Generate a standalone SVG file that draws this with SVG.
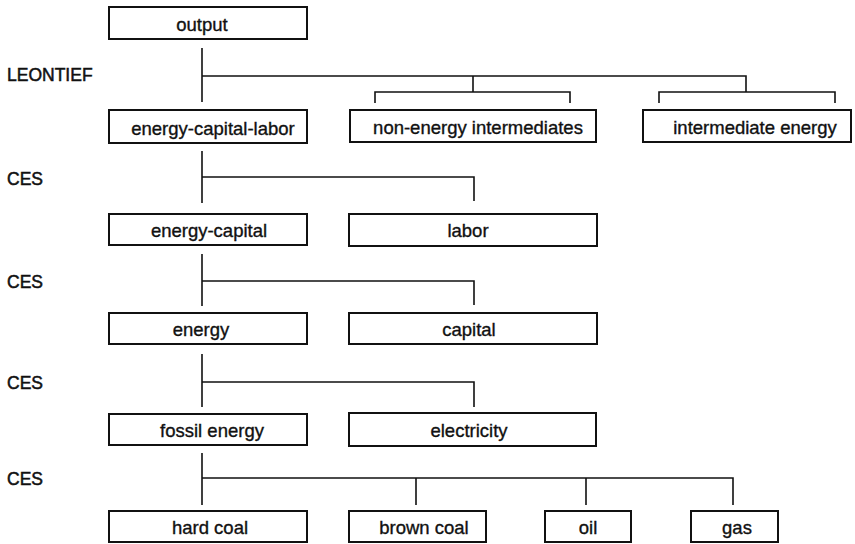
<svg xmlns="http://www.w3.org/2000/svg" width="855" height="544" viewBox="0 0 855 544">
<style>
.box{fill:#fff;stroke:#111;stroke-width:2}
.lbl{font-family:"Liberation Sans",Arial,sans-serif;font-size:18.5px;fill:#111;stroke:#111;stroke-width:0.35;text-anchor:middle}
.side{font-family:"Liberation Sans",Arial,sans-serif;font-size:17.5px;fill:#111;stroke:#111;stroke-width:0.5}
.ln{fill:none;stroke:#111;stroke-width:1.6}
</style>
<rect width="855" height="544" fill="#fff"/>
<g id="connectors">
<path class="ln" d="M202 48V102M202 76H746V92M473 76V92M375 103V92H570V103M659 103V92H835V103"/>
<path class="ln" d="M202 151V203M202 177H474V201"/>
<path class="ln" d="M202 254V306M202 281H474V305"/>
<path class="ln" d="M202 354V407M202 382H474V407"/>
<path class="ln" d="M202 453V505M202 478H733V505M416 478V505M586 478V505"/>
</g>
<g id="side-labels">
<text class="side" x="7" y="81">LEONTIEF</text>
<text class="side" x="7" y="185">CES</text>
<text class="side" x="7" y="288">CES</text>
<text class="side" x="7" y="389">CES</text>
<text class="side" x="7" y="485">CES</text>
</g>
<g id="output"><rect class="box" x="109" y="7" width="198" height="32"/><text class="lbl" x="202" y="31">output</text></g>
<g id="energy-capital-labor"><rect class="box" x="109" y="110" width="198" height="33"/><text class="lbl" x="213" y="135">energy-capital-labor</text></g>
<g id="non-energy-intermediates"><rect class="box" x="350" y="110" width="246" height="32"/><text class="lbl" x="478" y="134">non-energy intermediates</text></g>
<g id="intermediate-energy"><rect class="box" x="643" y="110" width="208" height="32"/><text class="lbl" x="755" y="134">intermediate energy</text></g>
<g id="energy-capital"><rect class="box" x="109" y="214" width="198" height="31"/><text class="lbl" x="209" y="237">energy-capital</text></g>
<g id="labor"><rect class="box" x="349" y="214" width="248" height="32"/><text class="lbl" x="468" y="237">labor</text></g>
<g id="energy"><rect class="box" x="109" y="313" width="198" height="31"/><text class="lbl" x="201" y="336">energy</text></g>
<g id="capital"><rect class="box" x="349" y="313" width="248" height="31"/><text class="lbl" x="469" y="336">capital</text></g>
<g id="fossil-energy"><rect class="box" x="109" y="414" width="198" height="31"/><text class="lbl" x="212" y="437">fossil energy</text></g>
<g id="electricity"><rect class="box" x="349" y="413" width="247" height="33"/><text class="lbl" x="469" y="437">electricity</text></g>
<g id="hard-coal"><rect class="box" x="109" y="511" width="198" height="31"/><text class="lbl" x="210" y="534">hard coal</text></g>
<g id="brown-coal"><rect class="box" x="349" y="511" width="137" height="31"/><text class="lbl" x="424" y="534">brown coal</text></g>
<g id="oil"><rect class="box" x="545" y="511" width="86" height="31"/><text class="lbl" x="588" y="534">oil</text></g>
<g id="gas"><rect class="box" x="691" y="511" width="87" height="31"/><text class="lbl" x="737" y="534">gas</text></g>
</svg>
